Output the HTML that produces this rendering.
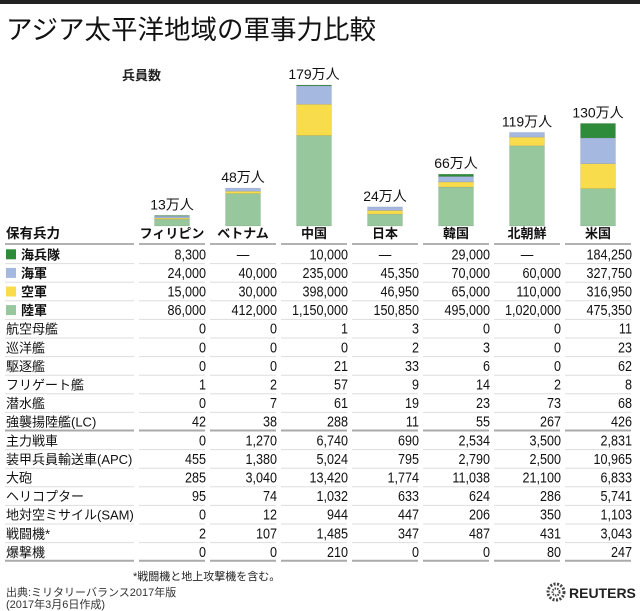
<!DOCTYPE html>
<html><head><meta charset="utf-8">
<style>
html,body{margin:0;padding:0;background:#fff;}
svg{display:block;font-family:"Liberation Sans","Noto Sans CJK JP",sans-serif;}
</style></head>
<body>
<svg id="c" width="640" height="611" viewBox="0 0 640 611">
<rect x="0" y="0" width="640" height="4" fill="#222"/>
<text x="6" y="39" font-size="26.5" fill="#111">アジア太平洋地域の軍事力比較</text>
<text x="122" y="80" font-size="13" font-weight="bold" fill="#222">兵員数</text>
<g id="bars"></g>
<g id="table"></g>
<text x="133" y="580" font-size="11" fill="#222">*戦闘機と地上攻撃機を含む。</text>
<text x="6" y="596" font-size="11" fill="#333">出典:ミリタリーバランス2017年版</text>
<text x="6" y="608" font-size="11" fill="#333">(2017年3月6日作成)</text>
<g>
<circle cx="556" cy="592" r="8" fill="none" stroke="#444" stroke-width="3" stroke-dasharray="2 1.5"/>
<circle cx="556" cy="592" r="3.5" fill="none" stroke="#444" stroke-width="2" stroke-dasharray="1.5 1"/>
<text x="569" y="598" font-size="14" font-weight="bold" fill="#222">REUTERS</text>
</g>
</svg>
<script>
const countries = ["フィリピン","ベトナム","中国","日本","韓国","北朝鮮","米国"];
const totals = ["13万人","48万人","179万人","24万人","66万人","119万人","130万人"];
const marines = [8300,0,10000,0,29000,0,184250];
const navy = [24000,40000,235000,45350,70000,60000,327750];
const air = [15000,30000,398000,46950,65000,110000,316950];
const army = [86000,412000,1150000,150850,495000,1020000,475350];
const forceNames = ["海兵隊","海軍","空軍","陸軍"];
const forceColors = ["#2e8b3a","#a4b8e0","#f8dc4c","#97c79c"];
const equipNames = ["航空母艦","巡洋艦","駆逐艦","フリゲート艦","潜水艦","強襲揚陸艦(LC)","主力戦車","装甲兵員輸送車(APC)","大砲","ヘリコプター","地対空ミサイル(SAM)","戦闘機*","爆撃機"];
const equip = [
[0,0,1,3,0,0,11],
[0,0,0,2,3,0,23],
[0,0,21,33,6,0,62],
[1,2,57,9,14,2,8],
[0,7,61,19,23,73,68],
[42,38,288,11,55,267,426],
[0,1270,6740,690,2534,3500,2831],
[455,1380,5024,795,2790,2500,10965],
[285,3040,13420,1774,11038,21100,6833],
[95,74,1032,633,624,286,5741],
[0,12,944,447,206,350,1103],
[2,107,1485,347,487,431,3043],
[0,0,210,0,0,80,247]
];
const NS="http://www.w3.org/2000/svg";
const bars=document.getElementById('bars'), table=document.getElementById('table');
function mk(tag,attrs,parent,txt){const e=document.createElementNS(NS,tag);for(const k in attrs)e.setAttribute(k,attrs[k]);if(txt!==undefined)e.textContent=txt;parent.appendChild(e);return e;}
const baseY=226, pxPerPerson=141/1793000;
const yScale=v=>v*pxPerPerson;
const colLeft=i=>139+71*i, colW=66;
const fmt=v=>v.toLocaleString('en-US');
countries.forEach((c,i)=>{
  const cx=colLeft(i)+colW/2, bw=35;
  let y=baseY;
  const stacks=[army[i],air[i],navy[i],marines[i]], cols=[forceColors[3],forceColors[2],forceColors[1],forceColors[0]];
  const segNames=['army','air','navy','marines'];
  stacks.forEach((v,k)=>{
    if(!v)return;
    const h=yScale(v); y-=h;
    const r=mk('rect',{x:cx-bw/2,y:y,width:bw,height:h,fill:cols[k],stroke:'rgba(0,0,0,0.12)','stroke-width':0.6},bars);
    
    
  });
  const t=mk('text',{x:cx,y:y-6,'text-anchor':'middle','font-size':14,fill:'#111'},bars,totals[i]);
  
  
  const h=mk('text',{x:cx,y:238,'text-anchor':'middle','font-size':13,'font-weight':'bold',fill:'#111'},table,c);
  
  
});
const hl=mk('text',{x:6,y:238,'font-size':13.5,'font-weight':'bold',fill:'#111'},table,'保有兵力');


const segs=[[5,134]];countries.forEach((c,i)=>segs.push([colLeft(i),colLeft(i)+colW]));
function rules(y,color,w){segs.forEach(s=>{const l=mk('line',{x1:s[0],x2:s[1],y1:y,y2:y,stroke:color,'stroke-width':w},table);});}
rules(244,'#999',1.5);
const rowH=18.6, row0=245;
const rows=[];
forceNames.forEach((n,k)=>rows.push({name:n,vals:[marines,navy,air,army][k].map(v=>v?fmt(v):'—'),color:forceColors[k],bold:true}));
equipNames.forEach((n,k)=>rows.push({name:n,vals:equip[k].map(fmt)}));
rows.forEach((r,ri)=>{
  const top=row0+rowH*ri, ty=top+rowH/2+5;
  let x=6;
  if(r.color){const sq=mk('rect',{x:6,y:top+rowH/2-5,width:10,height:10,fill:r.color},table);x=21;}
  const lt=mk('text',{x:x,y:ty,'font-size':13,'font-weight':r.bold?'bold':'normal',fill:'#111'},table,r.name);
  
  
  r.vals.forEach((v,i)=>{
    const dash=v==='—';
    const px=dash?colLeft(i)+colW/2:colLeft(i)+colW+1;
    const vt=mk('text',{x:0,y:0,transform:'translate('+px+','+ty+') scale(0.84,1)','text-anchor':dash?'middle':'end','font-size':15,fill:'#111'},table,v);
    
    
  });
  const by=top+rowH;
  if(ri===9||ri===rows.length-1){rules(by-0.5,'#aaa',2);}
  else rules(by,'#ddd',1);
});
</script>
</body></html>
